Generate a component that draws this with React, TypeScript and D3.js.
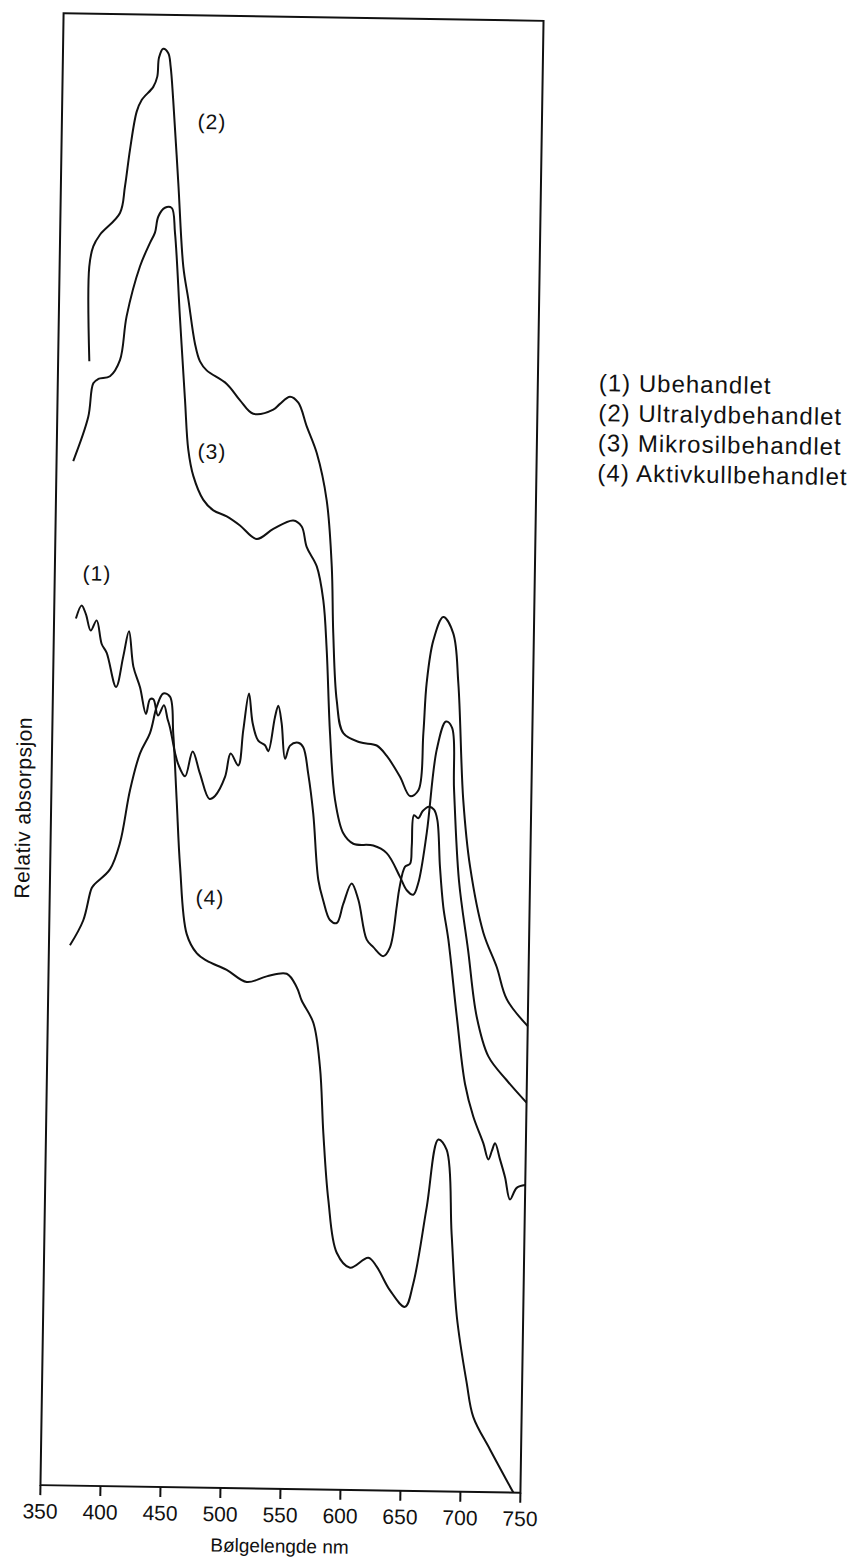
import React from 'react';
import * as d3 from 'd3';

// wavelength (nm) / relative absorption (0..100, no unit on the axis)
const ubehandlet: [number, number][] = [
  [368.2, 58.9], [372.8, 59.8], [376.5, 59.2], [380.7, 58.1], [385.5, 58.8], [390.0, 57.2],
  [394.3, 56.6], [402.5, 54.3], [408.2, 56.4], [412.6, 58.1], [416.7, 55.7], [422.5, 54.3],
  [427.8, 52.5], [431.0, 53.5], [433.8, 53.5], [437.8, 52.4], [442.7, 53.1], [445.8, 52.2],
  [448.0, 51.6], [452.5, 49.9], [455.4, 49.1], [461.2, 48.3], [467.2, 50.0], [473.6, 48.5],
  [481.7, 46.8], [486.4, 47.0], [494.5, 48.3], [498.9, 49.9], [505.4, 49.1], [509.1, 51.5],
  [513.4, 54.0], [516.8, 52.0], [521.7, 50.8], [527.4, 50.5], [530.2, 50.1], [535.3, 52.4],
  [538.0, 53.2], [541.0, 52.0], [544.3, 49.6], [548.3, 50.5], [555.1, 50.7], [559.3, 50.4],
  [563.8, 48.6], [568.5, 45.9], [573.6, 41.4], [578.0, 40.0], [583.8, 38.7], [589.5, 38.5],
  [594.7, 39.8], [601.4, 41.2], [607.2, 40.1], [614.7, 37.4], [620.3, 36.9], [628.8, 36.3],
  [634.2, 36.9], [639.3, 39.7], [641.2, 40.9], [645.7, 42.4], [649.8, 42.6], [651.0, 43.8],
  [652.5, 45.9], [656.1, 45.7], [659.7, 46.2], [664.8, 46.5], [669.1, 46.3], [672.0, 45.6],
  [674.8, 42.4], [678.1, 39.7], [682.7, 37.5], [690.7, 32.3], [698.5, 27.7], [705.8, 25.5],
  [714.5, 23.7], [718.9, 22.6], [721.8, 23.2], [724.3, 23.7], [728.7, 22.6], [733.1, 21.4],
  [737.5, 19.9], [742.9, 20.7], [750, 20.9],
];

const ultralyd: [number, number][] = [
  [376.0, 76.4], [374.7, 82.8], [377.8, 84.2], [383.2, 85.0], [399.6, 86.5], [403.4, 88.3],
  [407.1, 90.8], [412.2, 93.4], [416.2, 94.2], [425.7, 95.1], [428.9, 95.8], [430.1, 97.1],
  [433.5, 97.7], [437.8, 97.4], [439.9, 96.5], [442.5, 94.2], [447.8, 88.6], [453.1, 82.9],
  [457.7, 80.7], [463.8, 77.7], [468.2, 76.5], [473.9, 75.9], [490.8, 75.0], [502.1, 73.9],
  [513.3, 73.0], [529.9, 73.3], [535.4, 73.7], [543.7, 74.2], [550.7, 73.8], [558.0, 72.2],
  [566.7, 70.4], [575.6, 67.2], [580.7, 62.7], [582.8, 58.2], [586.6, 53.6], [592.5, 51.4],
  [606.5, 50.8], [620.5, 50.6], [629.0, 49.9], [640.3, 48.5], [648.9, 47.2], [655.8, 47.6],
  [659.2, 51.5], [661.3, 54.9], [666.3, 57.8], [674.3, 59.4], [682.8, 58.3], [687.7, 54.9],
  [693.3, 47.0], [699.8, 42.5], [711.8, 38.0], [723.3, 35.7], [732.2, 33.5], [750, 31.7],
];

const mikrosil: [number, number][] = [
  [363.9, 69.6], [375.8, 72.6], [379.6, 74.9], [383.7, 75.2], [393.4, 75.4], [401.5, 76.5],
  [406.5, 79.5], [417.0, 82.9], [425.0, 84.5], [429.0, 85.2], [431.6, 86.3], [437.0, 86.9],
  [442.6, 86.9], [445.7, 85.2], [450.9, 79.5], [456.2, 73.9], [459.6, 70.5], [464.2, 68.7],
  [472.8, 67.1], [481.3, 66.4], [492.5, 66.0], [503.7, 65.4], [517.8, 64.5], [531.5, 65.2],
  [548.0, 65.8], [555.1, 65.4], [559.6, 64.0], [568.2, 62.7], [574.1, 60.4], [577.6, 57.0],
  [581.4, 51.4], [586.4, 46.9], [593.8, 44.6], [602.3, 43.9], [618.9, 43.8], [630.2, 43.3],
  [641.6, 41.7], [647.4, 40.8], [652.9, 40.5], [656.9, 41.3], [663.3, 44.7], [670.6, 50.4],
  [677.9, 52.3], [683.0, 51.9], [685.5, 47.7], [690.8, 41.5], [699.3, 36.8], [707.3, 32.3],
  [717.6, 29.6], [733.2, 28.0], [750, 26.5],
];

const aktivkull: [number, number][] = [
  [367.5, 36.7], [378.2, 38.4], [384.8, 40.6], [387.5, 40.9], [399.8, 41.9], [407.8, 43.7],
  [415.5, 47.3], [423.3, 49.8], [431.4, 51.2], [436.7, 53.0], [442.0, 53.9], [447.6, 53.7],
  [450.8, 51.2], [454.5, 46.7], [458.2, 42.2], [464.6, 37.6], [473.2, 36.3], [481.6, 35.8],
  [498.4, 35.2], [515.3, 34.4], [531.8, 34.8], [548.5, 35.0], [557.0, 34.1], [561.3, 33.2],
  [571.3, 31.7], [577.4, 28.7], [581.1, 24.2], [586.1, 19.7], [593.8, 16.1], [605.1, 15.1],
  [620.2, 15.8], [627.3, 15.2], [638.7, 13.6], [651.4, 12.5], [658.0, 14.1], [668.2, 19.3],
  [677.0, 23.9], [684.1, 23.2], [689.3, 17.5], [694.7, 11.9], [703.8, 7.4], [709.7, 5.1],
  [724.1, 2.9], [744.1, 0.0],
];

const series = [ubehandlet, ultralyd, mikrosil, aktivkull];
const curveTags = ['(1)', '(2)', '(3)', '(4)'];
// where the tags sit, in nm / relative units
const tagPos: [number, number][] = [[385.2, 62.0], [475.1, 92.8], [479.4, 70.4], [483.6, 40.1]];
const legendNames = ['Ubehandlet', 'Ultralydbehandlet', 'Mikrosilbehandlet', 'Aktivkullbehandlet'];
const nmTicks = [350, 400, 450, 500, 550, 600, 650, 700, 750];

const FONT = '"Liberation Sans", Arial, sans-serif';

export default function App() {
  const left = 52, top = 17, w = 480, h = 1472;
  const x = d3.scaleLinear().domain([350, 750]).range([left, left + w]);
  const y = d3.scaleLinear().domain([0, 100]).range([top + h, top]);
  const line = d3.line<[number, number]>()
    .x(d => x(d[0]))
    .y(d => y(d[1]))
    .curve(d3.curveCatmullRom.alpha(0.5));

  return (
    <svg width={860} height={1563} style={{ position: 'absolute', left: 0, top: 0, background: '#fff' }}>
      {/* the scan is turned a little, so everything lives in one rotated group */}
      <g transform="rotate(0.9, 292, 753)" fontFamily={FONT} fill="#111">
        <rect x={left} y={top} width={w} height={h} fill="none" stroke="#111" strokeWidth={2} />

        {nmTicks.map(t => (
          <g key={t}>
            <line x1={x(t)} x2={x(t)} y1={top + h} y2={top + h + 10} stroke="#111" strokeWidth={2} />
            <text x={x(t)} y={top + h + 26} dy="0.35em" textAnchor="middle" fontSize={21}>{t}</text>
          </g>
        ))}
        <text x={left + w / 2} y={top + h + 57} dy="0.35em" textAnchor="middle" fontSize={19}>
          Bølgelengde nm
        </text>
        <text transform={`translate(24, 812) rotate(-90)`} dy="0.35em" textAnchor="middle"
          fontSize={21} letterSpacing={0.5}>
          Relativ absorpsjon
        </text>

        {series.map((s, i) => (
          <path key={i} d={line(s) || ''} fill="none" stroke="#111" strokeWidth={2} strokeLinejoin="round" />
        ))}

        {curveTags.map((t, i) => (
          <text key={t} x={x(tagPos[i][0])} y={y(tagPos[i][1])} dy="0.35em" textAnchor="middle"
            fontSize={21} letterSpacing={1}>{t}</text>
        ))}

        {legendNames.map((n, i) => (
          <text key={n} x={593} y={378 + i * 30} dy="0.35em" fontSize={24} letterSpacing={1}>
            {curveTags[i]} {n}
          </text>
        ))}
      </g>
    </svg>
  );
}
